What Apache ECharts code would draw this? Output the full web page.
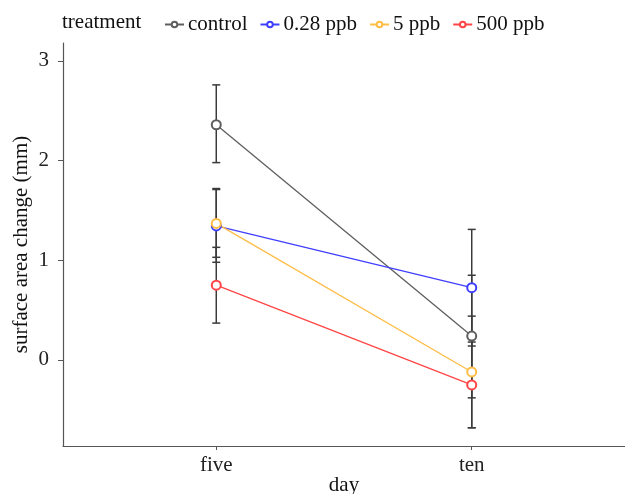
<!DOCTYPE html>
<html>
<head>
<meta charset="utf-8">
<script src="https://cdn.jsdelivr.net/npm/echarts@6/dist/echarts.min.js"></script>
<style>
  html, body { margin: 0; padding: 0; background: #fff; }
  #chart { width: 625px; height: 494px; }
</style>
</head>
<body>
<div id="chart"></div>
<script>
// categories on the x axis and their positions on a continuous scale
const days = ['five', 'ten'];
const dayPos = [1, 2];
const yTicks = [0, 1, 2, 3];

const groups = ['control', '0.28 ppb', '5 ppb', '500 ppb'];
const colors = ['#5e5e5e', '#3f3fff', '#ffbd45', '#ff4545'];

// group means and error bar ends, one value per day
const controlMean = [2.36, 0.24];
const controlLow = [1.98, -0.38];
const controlHigh = [2.76, 0.85];

const ppb028Mean = [1.345, 0.725];
const ppb028Low = [0.98, 0.14];
const ppb028High = [1.71, 1.31];

const ppb5Mean = [1.37, -0.12];
const ppb5Low = [1.03, -0.68];
const ppb5High = [1.72, 0.44];

const ppb500Mean = [0.75, -0.25];
const ppb500Low = [0.37, -0.68];
const ppb500High = [1.13, 0.18];

const means = [controlMean, ppb028Mean, ppb5Mean, ppb500Mean];
const lows = [controlLow, ppb028Low, ppb5Low, ppb500Low];
const highs = [controlHigh, ppb028High, ppb5High, ppb500High];

const font = '"Liberation Serif", "DejaVu Serif", serif';

const chart = echarts.init(document.getElementById('chart'));

const errorData = [];
groups.forEach((g, i) => {
  dayPos.forEach((x, j) => {
    errorData.push([x, lows[i][j], highs[i][j]]);
  });
});

const renderError = (params, api) => {
  const x = api.value(0);
  const lo = api.coord([x, api.value(1)]);
  const hi = api.coord([x, api.value(2)]);
  const cap = 4;
  const style = { stroke: '#3a3a3a', lineWidth: 1.5 };
  return {
    type: 'group',
    children: [
      { type: 'line', shape: { x1: lo[0], y1: lo[1], x2: hi[0], y2: hi[1] }, style },
      { type: 'line', shape: { x1: hi[0] - cap, y1: hi[1], x2: hi[0] + cap, y2: hi[1] }, style },
      { type: 'line', shape: { x1: lo[0] - cap, y1: lo[1], x2: lo[0] + cap, y2: lo[1] }, style }
    ]
  };
};

const lineSeries = groups.map((g, i) => ({
  name: g,
  type: 'line',
  data: dayPos.map((x, j) => [x, means[i][j]]),
  symbol: 'emptyCircle',
  symbolSize: 9,
  z: 3,
  lineStyle: { color: colors[i], width: 1.3 },
  itemStyle: { color: colors[i], borderWidth: 1.3 },
  emphasis: { disabled: true }
}));

chart.setOption({
  animation: false,
  title: {
    text: 'treatment',
    left: 57,
    top: 7,
    textStyle: { fontFamily: font, fontSize: 21, fontWeight: 'normal', color: '#111' }
  },
  legend: {
    data: groups,
    left: 159,
    top: 9,
    itemWidth: 19,
    itemHeight: 7,
    itemGap: 12,
    textStyle: { fontFamily: font, fontSize: 21, color: '#111', padding: [0, 0, 0, -1] }
  },
  grid: { left: 63, right: 0, top: 43, bottom: 48, outerBoundsMode: 'none', containLabel: false },
  xAxis: {
    type: 'value',
    min: 0.4,
    max: 2.6,
    name: 'day',
    nameLocation: 'middle',
    nameGap: 29,
    nameMoveOverlap: false,
    nameTextStyle: { fontFamily: font, fontSize: 21, color: '#111' },
    axisLine: { onZero: false, lineStyle: { color: '#555', width: 1.2 } },
    axisTick: { customValues: dayPos, length: 4, lineStyle: { color: '#555' } },
    axisLabel: {
      customValues: dayPos,
      formatter: v => days[dayPos.indexOf(v)] || '',
      fontFamily: font,
      fontSize: 21,
      color: '#222',
      margin: 9
    },
    splitLine: { show: false }
  },
  yAxis: {
    type: 'value',
    min: -0.863,
    max: 3.18,
    name: 'surface area change (mm)',
    nameLocation: 'middle',
    nameGap: 31,
    nameMoveOverlap: false,
    nameTextStyle: { fontFamily: font, fontSize: 21, color: '#111' },
    axisLine: { show: true, onZero: false, lineStyle: { color: '#555', width: 1.2 } },
    axisTick: { show: true, customValues: yTicks, length: 5, lineStyle: { color: '#555' } },
    axisLabel: {
      customValues: yTicks,
      fontFamily: font,
      fontSize: 21,
      color: '#222',
      margin: 14
    },
    splitLine: { show: false }
  },
  series: [
    {
      type: 'custom',
      name: 'errors',
      renderItem: renderError,
      data: errorData,
      z: 1,
      silent: true,
      encode: { x: 0, y: [1, 2] }
    },
    ...lineSeries
  ]
});
</script>
</body>
</html>
